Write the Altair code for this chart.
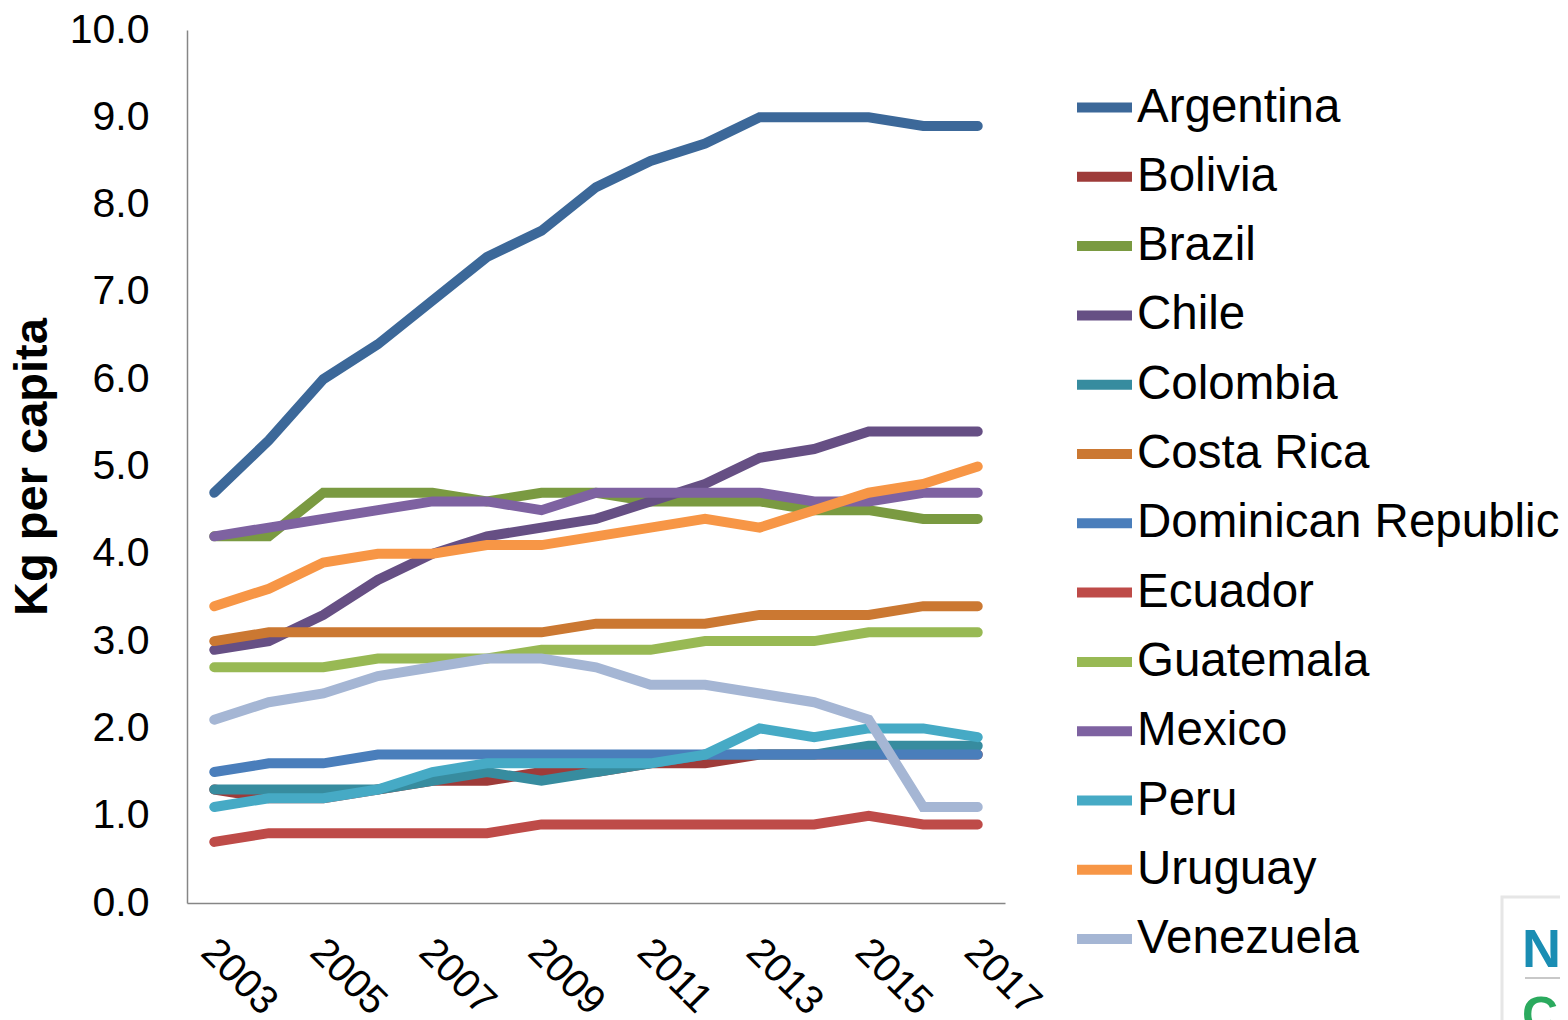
import altair as alt
import pandas as pd

years = list(range(2003, 2018))
countries = ["Argentina", "Bolivia", "Brazil", "Chile", "Colombia", "Costa Rica",
             "Dominican Republic", "Ecuador", "Guatemala", "Mexico", "Peru",
             "Uruguay", "Venezuela"]
colors = ["#3C6899", "#9E3B39", "#7A9A41", "#664F84", "#378C9F", "#CB7832",
          "#4A7EBB", "#BE4B48", "#98B954", "#7E62A1", "#46AAC5", "#F79646",
          "#A5B6D4"]

argentina = [4.7, 5.3, 6.0, 6.4, 6.9, 7.4, 7.7, 8.2, 8.5, 8.7, 9.0, 9.0, 9.0, 8.9, 8.9]
bolivia = [1.3, 1.2, 1.2, 1.3, 1.4, 1.4, 1.5, 1.5, 1.6, 1.6, 1.7, 1.7, 1.7, 1.7, 1.7]
brazil = [4.2, 4.2, 4.7, 4.7, 4.7, 4.6, 4.7, 4.7, 4.6, 4.6, 4.6, 4.5, 4.5, 4.4, 4.4]
chile = [2.9, 3.0, 3.3, 3.7, 4.0, 4.2, 4.3, 4.4, 4.6, 4.8, 5.1, 5.2, 5.4, 5.4, 5.4]
colombia = [1.3, 1.3, 1.3, 1.3, 1.4, 1.5, 1.4, 1.5, 1.6, 1.7, 1.7, 1.7, 1.8, 1.8, 1.8]
costa_rica = [3.0, 3.1, 3.1, 3.1, 3.1, 3.1, 3.1, 3.2, 3.2, 3.2, 3.3, 3.3, 3.3, 3.4, 3.4]
dominican = [1.5, 1.6, 1.6, 1.7, 1.7, 1.7, 1.7, 1.7, 1.7, 1.7, 1.7, 1.7, 1.7, 1.7, 1.7]
ecuador = [0.7, 0.8, 0.8, 0.8, 0.8, 0.8, 0.9, 0.9, 0.9, 0.9, 0.9, 0.9, 1.0, 0.9, 0.9]
guatemala = [2.7, 2.7, 2.7, 2.8, 2.8, 2.8, 2.9, 2.9, 2.9, 3.0, 3.0, 3.0, 3.1, 3.1, 3.1]
mexico = [4.2, 4.3, 4.4, 4.5, 4.6, 4.6, 4.5, 4.7, 4.7, 4.7, 4.7, 4.6, 4.6, 4.7, 4.7]
peru = [1.1, 1.2, 1.2, 1.3, 1.5, 1.6, 1.6, 1.6, 1.6, 1.7, 2.0, 1.9, 2.0, 2.0, 1.9]
uruguay = [3.4, 3.6, 3.9, 4.0, 4.0, 4.1, 4.1, 4.2, 4.3, 4.4, 4.3, 4.5, 4.7, 4.8, 5.0]
venezuela = [2.1, 2.3, 2.4, 2.6, 2.7, 2.8, 2.8, 2.7, 2.5, 2.5, 2.4, 2.3, 2.1, 1.1, 1.1]

series = [argentina, bolivia, brazil, chile, colombia, costa_rica, dominican,
          ecuador, guatemala, mexico, peru, uruguay, venezuela]

rows = []
for c, vals in zip(countries, series):
    for y, v in zip(years, vals):
        rows.append({"country": c, "year": y, "value": v})
df = pd.DataFrame(rows)

FONT = "Liberation Sans"

lines = alt.Chart(df).mark_line(strokeWidth=10, strokeCap="round").encode(
    x=alt.X("year:Q",
            scale=alt.Scale(domain=[2002.5, 2017.5], nice=False, zero=False),
            axis=alt.Axis(values=[2003, 2005, 2007, 2009, 2011, 2013, 2015, 2017],
                          format="d", labelAngle=45, labelAlign="left",
                          labelBaseline="top", labelPadding=28, labelFontSize=40,
                          labelOffset=7, ticks=False, grid=False, title=None,
                          domainColor="#868686", domainWidth=1.5,
                          labelFont=FONT, labelColor="#000000")),
    y=alt.Y("value:Q",
            scale=alt.Scale(domain=[0, 10], nice=False),
            axis=alt.Axis(values=list(range(0, 11)), format=".1f",
                          labelFontSize=41, labelPadding=38, ticks=False,
                          grid=False, title="Kg per capita", titleFontSize=47,
                          titleFont=FONT, titleFontWeight="bold",
                          titlePadding=13, titleColor="#000000",
                          domainColor="#868686", domainWidth=1.5,
                          labelFont=FONT, labelColor="#000000")),
    color=alt.Color("country:N", sort=countries,
                    scale=alt.Scale(domain=countries, range=colors),
                    legend=alt.Legend(title=None, orient="none", legendX=885,
                                      legendY=45, labelFontSize=47.5,
                                      labelFont=FONT, labelColor="#000000",
                                      labelLimit=0,
                                      symbolType="stroke", symbolStrokeWidth=10,
                                      symbolSize=3025, labelOffset=0,
                                      rowPadding=13.3, padding=0)),
    order=alt.Order("year:Q"),
)

logo_df = pd.DataFrame({"a": [1]})
logo_box = alt.Chart(logo_df).mark_rect(fill="white", stroke="#e6e6e6",
                                        strokeWidth=3).encode(
    x=alt.value(1315), x2=alt.value(1420), y=alt.value(867), y2=alt.value(1000))
logo_n = alt.Chart(logo_df).mark_text(text="NC", font=FONT, fontWeight="bold",
                                      fontSize=54, color="#1A8DB3",
                                      align="left", baseline="alphabetic").encode(
    x=alt.value(1335), y=alt.value(937))
logo_rule = alt.Chart(logo_df).mark_rule(color="#c8c8c8", strokeWidth=2).encode(
    x=alt.value(1338), x2=alt.value(1420), y=alt.value(948))
logo_co = alt.Chart(logo_df).mark_text(text="CO", font=FONT, fontWeight="bold",
                                       fontSize=50, color="#2BAA5E",
                                       align="left", baseline="top").encode(
    x=alt.value(1335), y=alt.value(962))

chart = alt.layer(lines, logo_box, logo_n, logo_rule, logo_co).properties(
    width=818, height=873,
    autosize=alt.AutoSizeParams(type="none"),
    padding={"left": 179, "top": 22, "right": 555, "bottom": 117},
).configure_view(stroke=None)

chart.save("out.html", embed_options={"renderer": "svg", "actions": False})
